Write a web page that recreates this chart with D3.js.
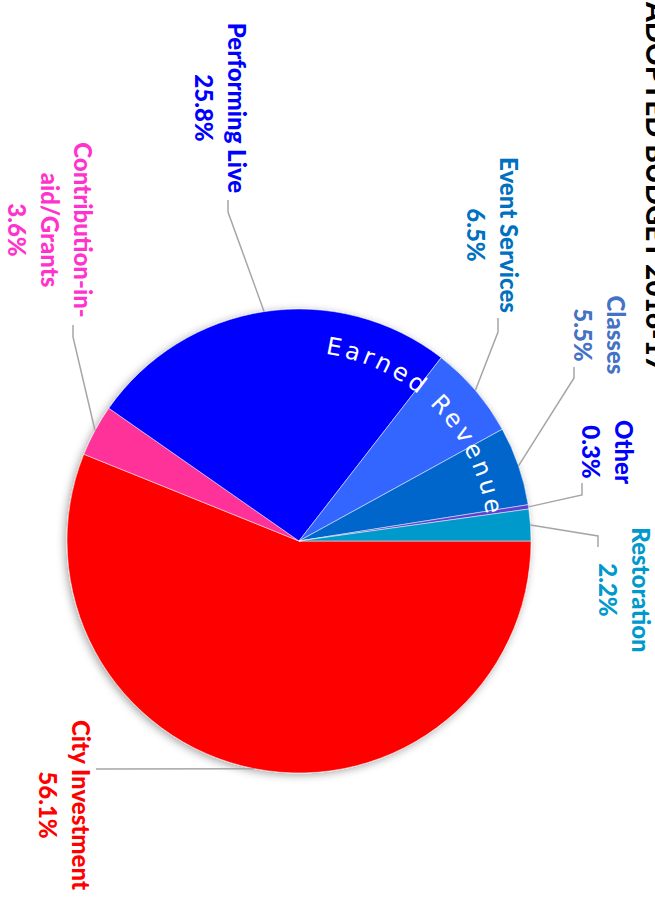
<!DOCTYPE html>
<html>
<head>
<meta charset="utf-8">
<script src="https://cdn.jsdelivr.net/npm/d3@7"></script>
<style>
  body { margin: 0; background: #fff; }
  text { font-family: Lato, 'Noto Sans', sans-serif; font-weight: 900; }
</style>
</head>
<body>
<script>
var title = 'ADOPTED BUDGET 2016-17'
var ringLabel = 'Earned Revenue'

var categories = ['City Investment', 'Contribution-in-aid/Grants', 'Performing Live',
  'Event Services', 'Classes', 'Other', 'Restoration']
var shares = [56.1, 3.6, 25.8, 6.5, 5.5, 0.3, 2.2]
var labelLines = [['City Investment'], ['Contribution-in-', 'aid/Grants'], ['Performing Live'],
  ['Event Services'], ['Classes'], ['Other'], ['Restoration']]

var sliceColor = ['#ff0000', '#ff3399', '#0000ff', '#3366ff', '#0066cc', '#5b3fd1', '#0099cc']
var textColor = ['#ff0000', '#ff33cc', '#0000ff', '#0070c0', '#4472c4', '#0000ff', '#0099cc']

// chart is drawn upright in a 910 x 655 frame, then turned a quarter clockwise
var W = 910, H = 655
var cx = 541, cy = 356, r = 232

// label centre x, first baseline y, leader tail (tx, ty) and bend length
var labelAt = [
  {x: 805, y: 583, tx: 769, ty: 559, bend: 0},
  {x: 230, y: 581, tx: 325, ty: 582, bend: 12},
  {x: 108, y: 427, tx: 200, ty: 427, bend: 12},
  {x: 235, y: 155, tx: 318, ty: 157, bend: 14},
  {x: 335, y: 48, tx: 367, ty: 81, bend: 11},
  {x: 452, y: 40, tx: 483, ty: 73, bend: 12},
  {x: 590, y: 23, tx: 547, ty: 57, bend: 11}
]
var lineGap = 33

var svg = d3.select('body').append('svg')
  .attr('width', H).attr('height', W)

var defs = svg.append('defs')
var shadow = defs.append('filter').attr('id', 'shadow')
  .attr('x', '-20%').attr('y', '-20%').attr('width', '140%').attr('height', '140%')
shadow.append('feDropShadow')
  .attr('dx', 2).attr('dy', 2).attr('stdDeviation', 4)
  .attr('flood-color', '#000').attr('flood-opacity', 0.35)

var g = svg.append('g').attr('transform', 'translate(' + H + ',0) rotate(90)')

g.append('text')
  .attr('x', 372).attr('y', 9)
  .attr('text-anchor', 'end')
  .style('font-size', '28px')
  .attr('fill', '#000')
  .text(title)

var pie = d3.pie().sort(null).value(function(d){ return d })
var arcs = pie(shares)
var arc = d3.arc().innerRadius(0).outerRadius(r)

var pieG = g.append('g').attr('transform', 'translate(' + cx + ',' + cy + ')')

pieG.append('g').attr('filter', 'url(#shadow)')
  .selectAll('path').data(arcs).enter().append('path')
  .attr('d', arc)
  .attr('fill', function(d, i){ return sliceColor[i] })
  .attr('stroke', '#fff').attr('stroke-width', 0.5)

// curved caption over the earned revenue slices
var ringR = 189
var a0 = 278 * Math.PI / 180, a1 = 357 * Math.PI / 180
var ring = d3.path()
ring.arc(0, 0, ringR, a0 - Math.PI / 2, a1 - Math.PI / 2)
pieG.append('path').attr('id', 'ring').attr('d', ring.toString())
  .attr('fill', 'none')

pieG.append('text')
  .style('font-family', "'DejaVu Sans', sans-serif")
  .style('font-weight', 'normal')
  .style('font-size', '24px')
  .style('letter-spacing', '3.6px')
  .attr('fill', '#fff')
  .append('textPath')
  .attr('href', '#ring')
  .text(ringLabel)

// leaders
var edge = function(d){
  var a = (d.startAngle + d.endAngle) / 2
  return [cx + r * Math.sin(a), cy - r * Math.cos(a)]
}

g.selectAll('polyline.leader').data(arcs).enter().append('polyline')
  .attr('class', 'leader')
  .attr('points', function(d, i){
    var p = labelAt[i]
    var dir = edge(d)[0] > p.tx ? 1 : -1
    return [[p.tx, p.ty], [p.tx + dir * p.bend, p.ty], edge(d)].join(' ')
  })
  .attr('fill', 'none')
  .attr('stroke', '#a6a6a6')
  .attr('stroke-width', 1.5)

var fmt = d3.format('.1f')

var labels = g.selectAll('text.label').data(arcs).enter().append('text')
  .attr('class', 'label')
  .attr('text-anchor', 'middle')
  .attr('fill', function(d, i){ return textColor[i] })
  .style('font-size', '24px')

labels.selectAll('tspan')
  .data(function(d, i){
    return labelLines[i].concat(fmt(shares[i]) + '%').map(function(t, j){ return {t: t, j: j, i: i} })
  })
  .enter().append('tspan')
  .attr('x', function(d){ return labelAt[d.i].x })
  .attr('y', function(d){ return labelAt[d.i].y + d.j * lineGap })
  .text(function(d){ return d.t })
</script>
</body>
</html>
